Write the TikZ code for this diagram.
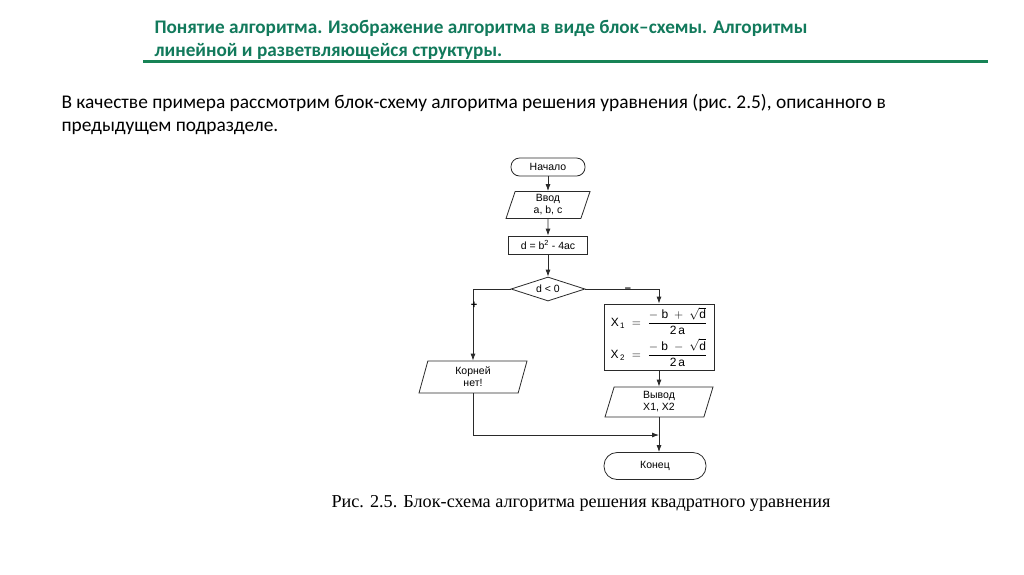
\documentclass[tikz,border=0pt]{standalone}
\usepackage{amsmath}
\usepackage{fontspec}
\setmainfont{Carlito}
\setsansfont{Liberation Sans}
\newfontfamily\capfont{Liberation Serif}
\usetikzlibrary{arrows.meta,positioning,shapes.geometric}
\definecolor{slidegreen}{HTML}{127A5C}
\definecolor{slideline}{HTML}{178356}
\definecolor{chartline}{HTML}{2A2A2A}
\tikzset{
  fcterm/.style={draw=chartline,thick,rounded corners=8.5pt,minimum height=18,inner sep=1pt,font=\sffamily\fontsize{10.5}{11.5}\selectfont},
  fcio/.style={draw=chartline,thick,trapezium,trapezium left angle=68,trapezium right angle=112,trapezium stretches body,inner sep=1pt,align=center,font=\sffamily\fontsize{10.5}{12}\selectfont},
  fcproc/.style={draw=chartline,thick,minimum height=18,inner sep=1pt,align=center,font=\sffamily\fontsize{10.5}{11.5}\selectfont},
  fccond/.style={draw=chartline,thick,diamond,aspect=3.2,minimum width=74,minimum height=24,inner sep=0pt,font=\sffamily\fontsize{10.5}{11.5}\selectfont},
  fcflow/.style={-{Latex[length=7pt,width=5pt]},draw=chartline,thick},
  fcsign/.style={font=\sffamily\bfseries\fontsize{11}{12}\selectfont,inner sep=1pt}
}

\begin{document}
\begin{tikzpicture}[x=1pt,y=-1pt]
\useasboundingbox[fill=white] (0,0) rectangle (1024,574);
% heading of the slide
\node[anchor=west,font=\bfseries\fontsize{19.2}{22}\selectfont,text=slidegreen,align=left] (head1) at (151,28) {Понятие алгоритма. Изображение алгоритма в виде блок--схемы. Алгоритмы};
\node[anchor=west,font=\bfseries\fontsize{19.2}{22}\selectfont,text=slidegreen,align=left] (head2) at (151,51) {линейной и разветвляющейся структуры.};
\draw[slideline,line width=3pt] (143,61) -- (988,61);
\node[anchor=west,font=\fontsize{19.4}{23}\selectfont] (body1) at (58,103) {В качестве примера рассмотрим блок-схему алгоритма решения уравнения (рис.~2.5), описанного в};
\node[anchor=west,font=\fontsize{19.4}{23}\selectfont] (body2) at (58,128) {предыдущем подразделе.};
% flowchart
\node[fcterm,minimum width=74] (start) at (548,167) {Начало};
\node[fcio,minimum width=84,minimum height=27] (input) at (548,205) {Ввод\\a, b, c};
\node[fcproc,minimum width=79] (disc) at (548,245) {d = b$^{\mathsf{2}}$ - 4ac};
\node[fccond] (cond) at (548,289) {d < 0};
\node[fcproc,minimum width=110,minimum height=66,font=\sffamily\fontsize{12}{13}\selectfont] (roots) at (659,337) {%
  $\mathsf{X}_{\,\mathsf{1}}\;\;\mathsf{=}\;\;\dfrac{-\;\mathsf{b}\;+\;\sqrt{\mathsf{d}}}{\mathsf{2\,a}}$\\[3pt]
  $\mathsf{X}_{\,\mathsf{2}}\;\;\mathsf{=}\;\;\dfrac{-\;\mathsf{b}\;-\;\sqrt{\mathsf{d}}}{\mathsf{2\,a}}$};
\node[fcio,minimum width=108,minimum height=32] (noroot) at (473,377) {Корней\\нет!};
\node[fcio,minimum width=108,minimum height=30] (output) at (659,402) {Вывод\\X1, X2};
\node[fcterm,minimum width=102,minimum height=27,rounded corners=13pt] (finish) at (655,466) {Конец};
\coordinate (join) at (659,435);
\draw[fcflow] (start) -- (input);
\draw[fcflow] (input) -- (disc);
\draw[fcflow] (disc) -- (cond);
\draw[fcflow] (cond.west) -| (noroot.north);
\draw[fcflow] (cond.east) -| (roots.north);
\draw[fcflow] (roots) -- (output);
\draw[fcflow] (noroot.south) |- (join);
\draw[fcflow] (output.south) -- (output.south |- finish.north);
\node[fcsign] (plus) at (474,305) {+};
\node[fcsign] (minus) at (628,290) {\textendash};
% caption
\node[font=\capfont\fontsize{18.2}{21}\selectfont] (caption) at (581,503) {Рис. 2.5. Блок-схема алгоритма решения квадратного уравнения};
\end{tikzpicture}
\end{document}
